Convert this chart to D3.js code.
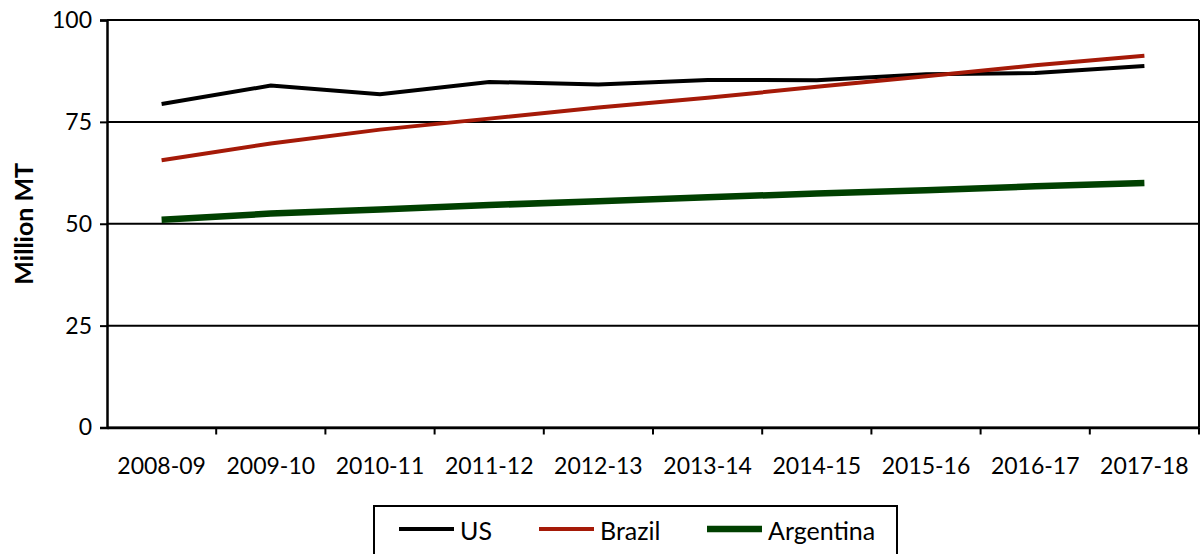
<!DOCTYPE html>
<html>
<head>
<meta charset="utf-8">
<script src="https://cdn.jsdelivr.net/npm/d3@7"></script>
<style>
  body { margin: 0; background: #fff; }
  svg { display: block; font-family: Lato, "Open Sans", sans-serif; }
</style>
</head>
<body>
<div id="chart"></div>
<script>
// Datos (millones de toneladas)
const seasons = ["2008-09", "2009-10", "2010-11", "2011-12", "2012-13",
                 "2013-14", "2014-15", "2015-16", "2016-17", "2017-18"];
const usValues        = [79.4, 83.9, 81.8, 84.8, 84.2, 85.3, 85.2, 86.7, 87.0, 88.7];
const brazilValues    = [65.6, 69.7, 73.1, 75.8, 78.5, 80.9, 83.6, 86.2, 88.9, 91.2];
const argentinaValues = [51.0, 52.5, 53.5, 54.6, 55.5, 56.5, 57.4, 58.2, 59.2, 60.0];
const yTicks = [0, 25, 50, 75, 100];

const series = [
  { name: "US",        values: usValues,        color: "#000000", width: 4 },
  { name: "Brazil",    values: brazilValues,    color: "#a51a08", width: 4 },
  { name: "Argentina", values: argentinaValues, color: "#004000", width: 6.5 }
];

const width = 1200, height = 554;
const margin = { top: 20, right: 1, bottom: 126, left: 107 };

const svg = d3.select("#chart").append("svg")
  .attr("width", width)
  .attr("height", height);

const x = d3.scaleBand()
  .domain(seasons)
  .range([margin.left, width - margin.right]);

const y = d3.scaleLinear()
  .domain([0, 100])
  .range([height - margin.bottom - 0.5, margin.top]);

// Lineas de cuadricula
svg.append("g")
  .selectAll("line")
  .data(yTicks)
  .enter().append("line")
  .attr("x1", margin.left)
  .attr("x2", width - margin.right)
  .attr("y1", d => y(d))
  .attr("y2", d => y(d))
  .attr("stroke", "#000")
  .attr("stroke-width", 2);

// Borde derecho
svg.append("line")
  .attr("x1", width - margin.right).attr("x2", width - margin.right)
  .attr("y1", y(100)).attr("y2", y(0))
  .attr("stroke", "#000").attr("stroke-width", 2);

// Eje Y
const yAxis = svg.append("g")
  .attr("transform", `translate(${margin.left},0)`)
  .call(d3.axisLeft(y).tickValues(yTicks).tickSize(7).tickPadding(8));
yAxis.select(".domain").attr("stroke-width", 2.5);
yAxis.selectAll(".tick line").attr("stroke-width", 2);
yAxis.selectAll("text")
  .style("font-size", "23px")
  .style("font-family", "Lato, sans-serif")
  .attr("fill", "#000");

// Eje X con marcas en los limites de cada banda
const xAxis = svg.append("g")
  .attr("transform", `translate(0,${y(0)})`)
  .call(d3.axisBottom(x).tickSize(0).tickPadding(30));
xAxis.select(".domain").attr("stroke-width", 2.5);
xAxis.selectAll("text")
  .style("font-size", "23px")
  .style("font-family", "Lato, sans-serif")
  .attr("fill", "#000");

svg.append("g")
  .selectAll("line")
  .data(seasons.slice(1).concat(["end"]))
  .enter().append("line")
  .attr("x1", (d, i) => margin.left + x.step() * (i + 1))
  .attr("x2", (d, i) => margin.left + x.step() * (i + 1))
  .attr("y1", y(0))
  .attr("y2", y(0) + 7)
  .attr("stroke", "#000")
  .attr("stroke-width", 2);

// Titulo del eje Y
svg.append("text")
  .attr("transform", `translate(33,${(y(0) + y(100)) / 2}) rotate(-90)`)
  .attr("text-anchor", "middle")
  .style("font-size", "25px")
  .style("font-weight", "bold")
  .text("Million MT");

// Lineas de las series
const line = d3.line()
  .x((d, i) => x(seasons[i]) + x.bandwidth() / 2)
  .y(d => y(d));

svg.append("g")
  .selectAll("path")
  .data(series)
  .enter().append("path")
  .attr("d", d => line(d.values))
  .attr("fill", "none")
  .attr("stroke", d => d.color)
  .attr("stroke-width", d => d.width)
  .attr("stroke-linejoin", "miter");

// Leyenda
const legend = svg.append("g");
legend.append("rect")
  .attr("x", 374).attr("y", 506)
  .attr("width", 523).attr("height", 60)
  .attr("fill", "#fff")
  .attr("stroke", "#000")
  .attr("stroke-width", 2);

const legendX = [399, 539, 707];
const item = legend.selectAll(".item")
  .data(series)
  .enter().append("g")
  .attr("transform", (d, i) => `translate(${legendX[i]},529)`);
item.append("line")
  .attr("x1", 0).attr("x2", 55)
  .attr("stroke", d => d.color)
  .attr("stroke-width", d => d.width);
item.append("text")
  .attr("x", 61)
  .attr("y", 2)
  .attr("dy", "0.35em")
  .style("font-size", "25px")
  .text(d => d.name);
</script>
</body>
</html>
